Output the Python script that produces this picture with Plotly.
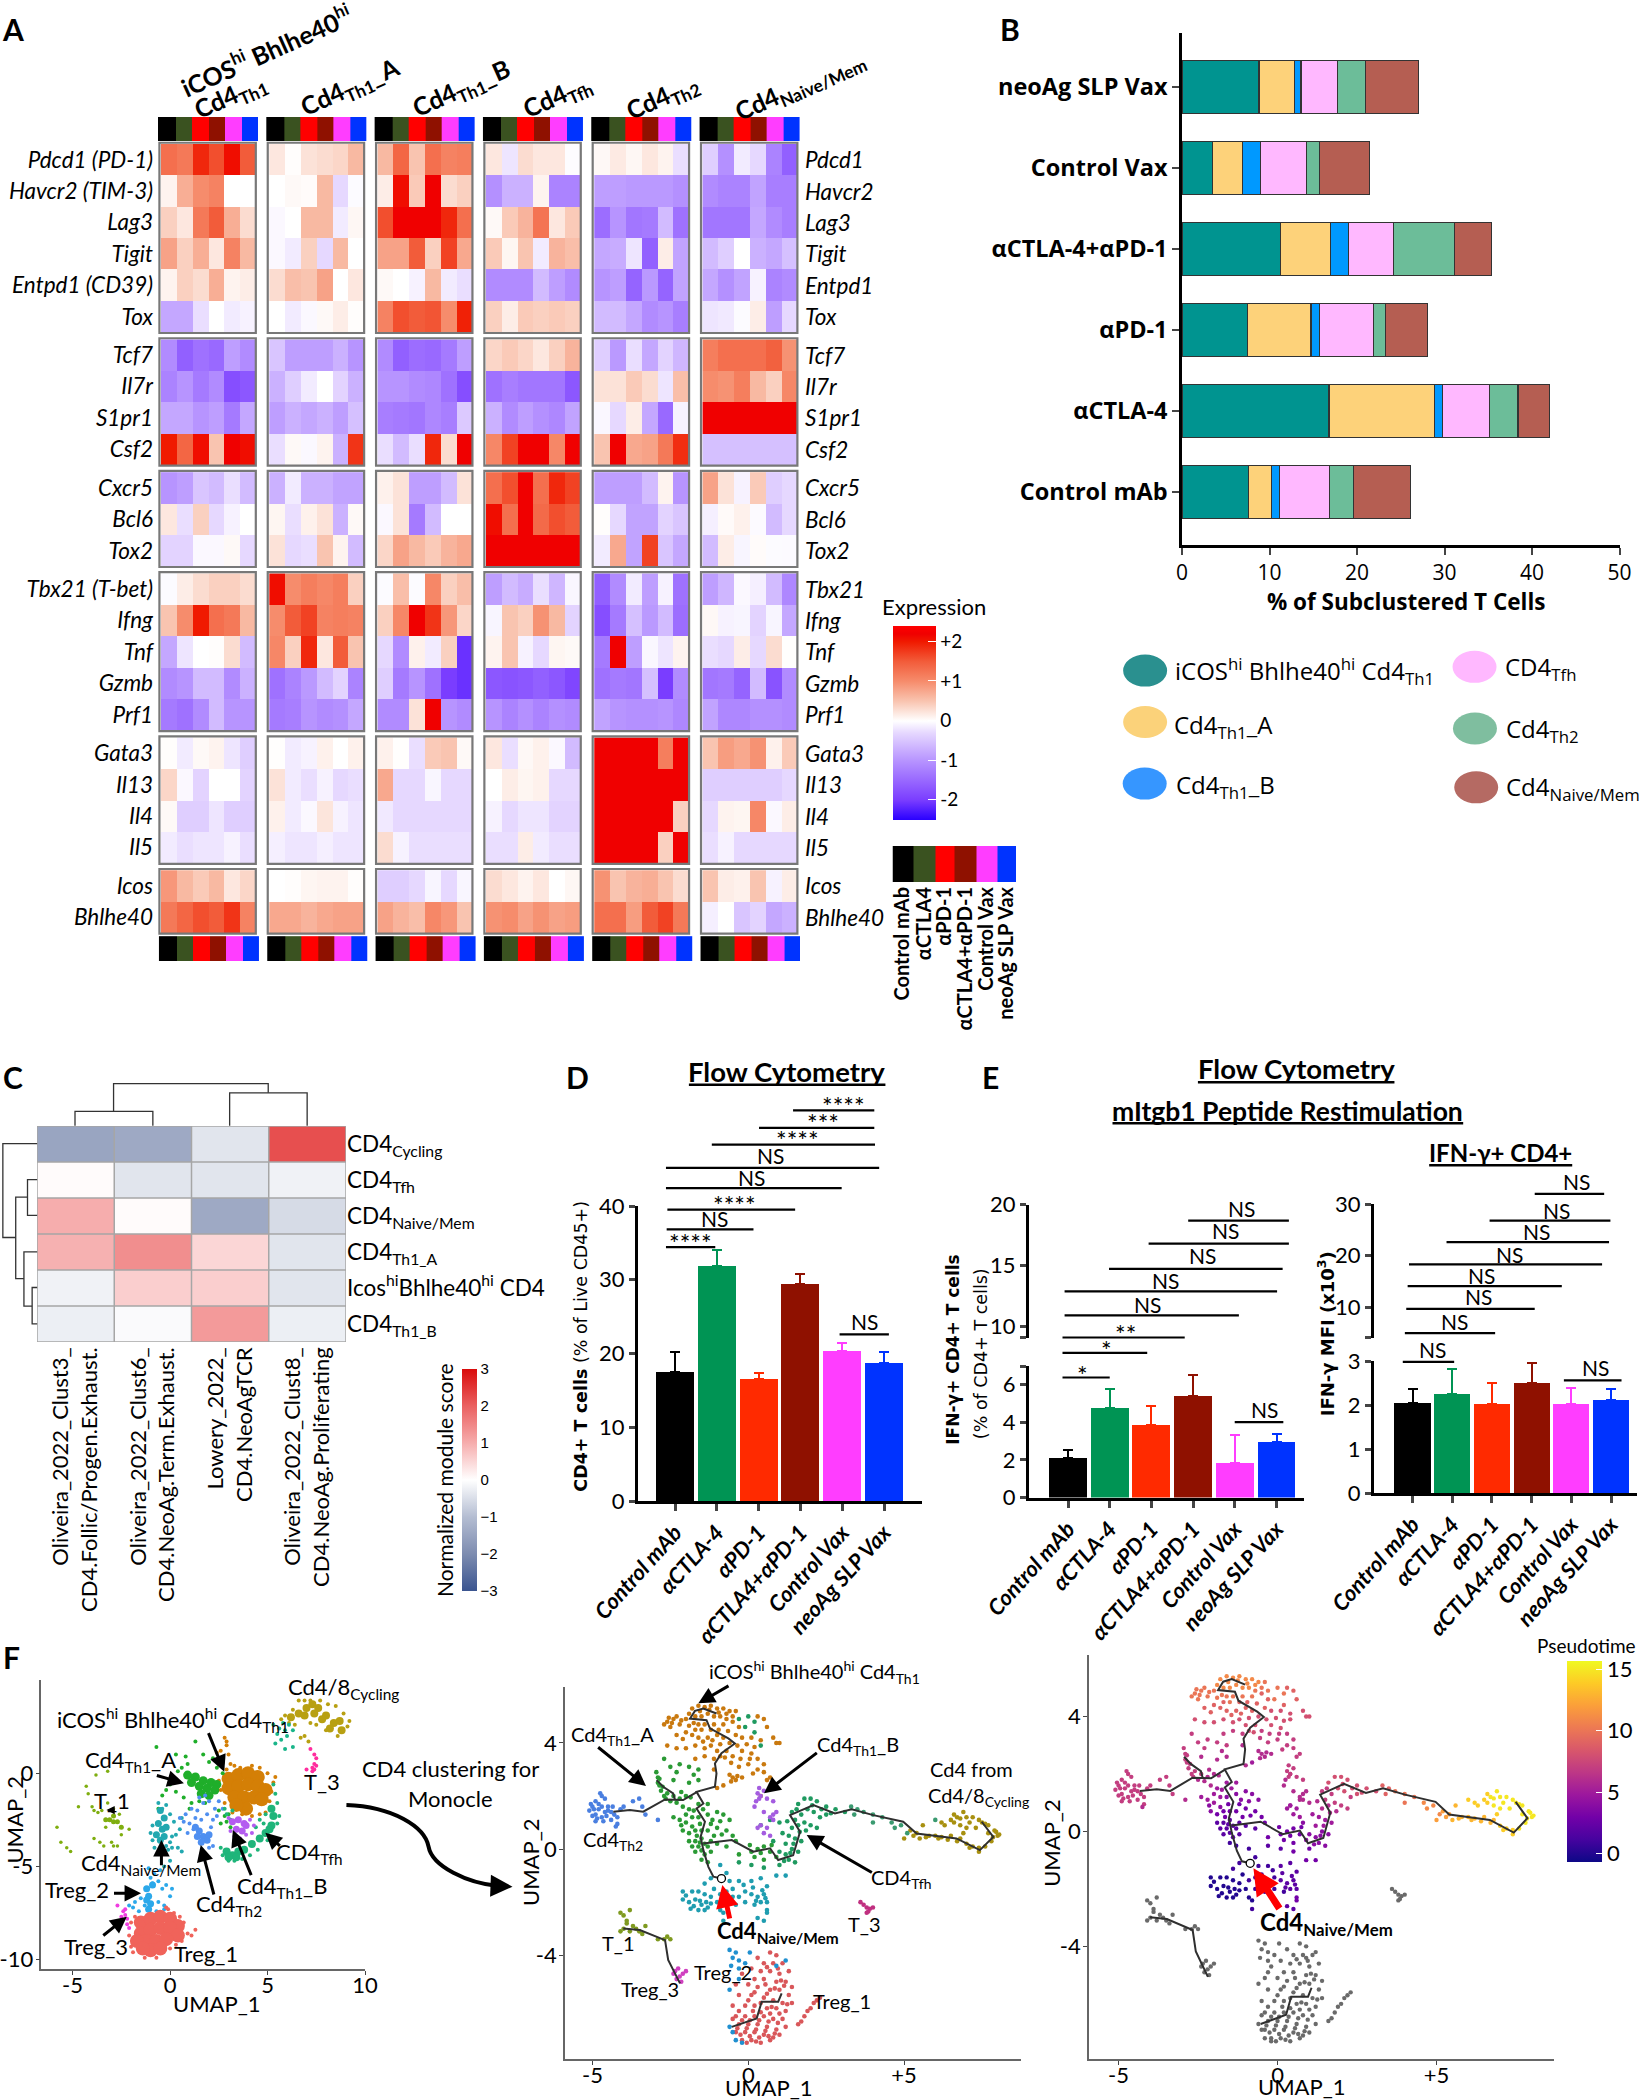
import plotly.graph_objects as go

W, H = 1639, 2100
LATO = "Lato"
OPEN = "Open Sans"
DEJA = "DejaVu Sans"

# ---------- panel A values ----------
genes_left = ["Pdcd1 (PD-1)", "Havcr2 (TIM-3)", "Lag3", "Tigit", "Entpd1 (CD39)", "Tox", "Tcf7", "Il7r", "S1pr1", "Csf2",
              "Cxcr5", "Bcl6", "Tox2", "Tbx21 (T-bet)", "Ifng", "Tnf", "Gzmb", "Prf1", "Gata3", "Il13", "Il4", "Il5", "Icos", "Bhlhe40"]
genes_right = ["Pdcd1", "Havcr2", "Lag3", "Tigit", "Entpd1", "Tox", "Tcf7", "Il7r", "S1pr1", "Csf2",
               "Cxcr5", "Bcl6", "Tox2", "Tbx21", "Ifng", "Tnf", "Gzmb", "Prf1", "Gata3", "Il13", "Il4", "Il5", "Icos", "Bhlhe40"]
group_sizes = [6, 4, 3, 5, 4, 2]
treat_colors = ["#000000", "#3a5220", "#ff0000", "#8f1100", "#ff3dff", "#0033ff"]
treat_names = ["Control mAb", "αCTLA4", "αPD-1", "αCTLA4+αPD-1", "Control Vax", "neoAg SLP Vax"]

block_icos = [[1.3,1.2,1.9,1.6,2.1,1.5],[.1,.7,1,1.1,0,0],[.4,.2,1.2,1.5,.7,.3],[.8,.4,.7,.2,1.1,.6],[.1,.4,.3,.7,.1,.15],[-.8,-.8,-.25,0,-.15,-.1],
 [-1.1,-1.6,-1.4,-1.5,-.9,-1.1],[-1.2,-1,-1.3,-1.1,-1.8,-1.7],[-.8,-.8,-1,-.9,-1.3,-.8],[2,1.4,2.1,.5,2.2,2.1],
 [-1,-.9,-.5,-.6,-.25,-.6],[.2,-.25,.4,-.3,-.1,0],[-.35,-.35,-.05,-.05,.05,-.3],
 [-.03,.15,.3,.4,.4,.3],[.5,1,2,1.3,1.2,.6],[-.8,-.2,0,.02,.3,-.6],[-1.1,-1,-.6,-.6,-1.1,-.7],[-1.3,-1.4,-1.1,-.6,-1,-1],
 [.02,-.15,.05,.1,-.2,-.4],[.35,-.05,-.35,0,0,-.35],[.05,-.4,-.4,-.2,-.4,-.4],[-.15,-.25,-.2,-.2,-.1,-.25],
 [.9,.6,.45,.6,.2,.35],[1.2,1.4,1.6,1.5,1.8,1.1]]
block_th1a = [[.2,.02,.25,.3,.35,.6],[0,.05,.03,.6,-.3,-.03],[-.05,0,.6,.6,-.15,.07],[-.05,-.15,.4,-.3,.6,0],[.3,.55,.5,.8,0,.2],[0,-.15,-.05,.05,.15,.02],
 [-.5,-.9,-.9,-.9,-.7,-1],[-.7,-.4,-.15,0,-.35,-.7],[-.9,-.7,-.8,-.7,-.9,-.55],[-.25,.05,-.05,.1,-.7,1.8],
 [-.7,-.15,-.7,-.7,-.85,-.85],[.08,-.25,.12,.25,-.7,.05],[.25,-.3,-.25,.5,.1,-.6],
 [2.1,1,1.15,1.05,1.15,.4],[1,1.5,1.7,1.1,1.15,1.1],[1.05,.4,1.9,.2,1.5,.5],[-1.4,-1.2,-.95,-.6,-.35,-1.2],[-1.3,-1.25,-1,-1.1,-1.05,-.8],
 [.01,-.15,-.1,.12,0,.12],[.25,-.15,-.25,-.1,-.3,-.25],[.12,-.15,-.05,.22,-.1,-.2],[-.12,-.2,-.2,-.12,-.2,-.2],
 [0,.02,.08,.1,.1,.02],[.75,.75,.65,.75,.8,.8]]
block_th1b = [[.6,1.4,.5,1.3,1.1,1.15],[.15,2.1,.45,2.2,.3,.4],[1.6,2.2,2.2,2.2,1.9,1.3],[.8,.8,1.5,.4,1.7,.75],[.05,0,-.1,.6,-.15,-.25],[1.1,1.6,1.5,1.55,1,1.95],
 [-1.1,-1.6,-1.45,-1.5,-1.3,-.9],[-1,-1,-1.1,-1.15,-1.4,-1.8],[-1.25,-1.3,-1.35,-1.15,-1.25,-.45],[-.25,-.6,-.25,1.9,.3,2.2],
 [.12,.25,-.9,-.9,-.6,.25],[-.05,.25,-1.3,-.6,0,0],[.35,.8,.6,.45,.65,.75],
 [-.03,.55,-.03,1.05,.4,.55],[.4,1.05,2.2,1.8,.9,.35],[-.3,-1.1,.12,-.15,.4,-2.1],[-.4,-1.3,-1,-1.4,-2,-2.1],[-1.1,-1.1,.25,2.2,-1,-1.1],
 [.12,.01,-.25,.45,.5,.05],[.75,-.3,-.3,-.07,-.3,-.3],[-.17,-.3,-.3,-.3,-.3,-.3],[.3,-.1,-.25,-.25,-.25,-.25],
 [-.4,-.4,-.3,-.08,-.3,-.07],[.8,.65,.55,1.05,.9,.5]]
block_tfh = [[.2,-.2,.3,.2,.2,-.02],[-1.05,-.7,-.7,.1,-1.2,-1.2],[.05,.45,.65,1.25,.2,.45],[.45,.08,.5,-.15,.65,.55],[-1.1,-1.1,-1.1,-.6,-.9,-1.1],[.4,.15,.45,.4,.45,.4],
 [.35,.45,.35,.2,.4,.65],[-1.4,-1.25,-1.35,-1.35,-1.35,-1.7],[-.7,-1.1,-.9,-1.05,-1.15,-.85],[1.05,1.7,2.2,2.2,1.05,2.2],
 [1.3,1.6,2.2,1.3,1.9,1.7],[2.1,1.3,2.2,1.35,1.6,1.5],[2.2,2.2,2.2,2.2,2.2,2.2],
 [-.9,-.6,-.75,-.25,-.65,-.07],[-.08,.5,.4,.95,.6,-.35],[.1,.5,-.1,-.3,.08,.05],[-1.7,-1.75,-1.7,-1.6,-1.7,-1.9],[-1,-1.2,-1.05,-1.2,-1.05,-1.1],
 [.2,-.25,.06,.12,-.05,-.6],[0,.15,.08,.12,-.3,-.3],[-.1,-.3,-.2,-.2,-.35,-.35],[-.25,-.25,.15,-.15,-.25,-.25],
 [.3,.2,.1,.2,0,.07],[.95,1,.8,.95,.8,.85]]
block_th2 = [[.06,.18,.07,.2,.1,-.25],[-.9,-.9,-.95,-.95,-.95,-1.05],[-1.45,-1,-1.35,-1.3,-.6,-1.4],[-.8,-.75,-.2,-1.6,.15,-.85],[-1,-.9,-1.55,-.95,-1.55,-.85],[-.6,-.6,-.8,-1.1,-1,-1.25],
 [-.4,-.95,-.25,-.8,-.35,-.65],[.25,.25,.45,.3,-.2,.55],[-.06,-.3,.15,-.8,-1.5,-.1],[.5,2.2,.75,.8,1.2,1.85],
 [-.9,-.9,-.9,-.6,.1,-1],[.02,-.3,-.85,-.85,-.35,-.5],[-.15,.75,-.85,1.7,-.5,-.8],
 [-1.6,-1.1,-.15,-.9,-.1,-1.4],[-1.8,-1.3,-.55,-.95,-.6,-1.45],[-1.3,2.2,-.9,-.06,-.2,.1],[-1.4,-1.3,-1.35,-.55,-2,-1.1],[-.85,-1,-1.05,-1.05,-1,-1.15],
 [2.2,2.2,2.2,2.2,1.15,2.2],[2.2,2.2,2.2,2.2,2.2,2.2],[2.2,2.2,2.2,2.2,2.2,.4],[2.2,2.2,2.2,2.2,.4,2.2],
 [.95,.5,.65,.7,.5,.3],[1.3,1.3,.85,1.5,1.7,1.2]]
block_naive = [[-.4,-1.05,-.15,-.3,-1.2,-1.6],[-1.1,-1.2,-1.2,-.85,-1.25,-1.25],[-1.35,-1.35,-1.35,-.8,-1.1,-1.25],[-.6,-.4,0,-.7,-.8,-.55],[-.8,-1.05,-.85,-.1,-1.2,-1.1],[-.2,-.17,-.03,.15,-.9,-.3],
 [1.15,1.3,1.3,1.3,1.45,.95],[1,.95,1.15,.6,.4,1.05],[2.2,2.2,2.2,2.2,2.2,2.2],[-.55,-.55,-.55,-.55,-.55,-.55],
 [.8,.25,-.1,.45,-.4,-.3],[-.12,.04,.12,-.04,-.6,-.3],[-.6,.15,-.08,.03,-.03,-.04],
 [-.9,-.65,-.05,-.12,-.6,-1.15],[.06,-.1,-.08,-.35,-.08,-.8],[-.25,-.3,.15,-.3,.3,.01],[-1.35,-1.3,-1.55,-.6,-1.75,-1.1],[-.85,-1.15,-1.15,-1.05,-1.05,-1.1],
 [.5,.85,.75,.95,.12,.45],[-.4,-.4,-.4,-.4,-.4,-.3],[-.3,.1,.08,1.05,-.05,.15],[-.25,-.1,-.3,-.3,-.3,-.3],
 [.5,.15,.12,.5,-.1,.15],[-.12,0,-.5,-.35,-.8,-.7]]

# ---------- panel B values ----------
cats_b = ["Control mAb", "αCTLA-4", "αPD-1", "αCTLA-4+αPD-1", "Control Vax", "neoAg SLP Vax"]
b_icos = [7.6, 16.8, 7.45, 11.3, 3.5, 8.8]
b_th1a = [2.65, 12.1, 7.3, 5.65, 3.45, 4.1]
b_th1b = [.85, .85, 1.0, 2.1, 2.05, .7]
b_tfh = [5.8, 5.35, 6.15, 5.15, 5.25, 4.15]
b_th2 = [2.7, 3.3, 1.4, 6.95, 1.45, 3.25]
b_naive = [6.55, 3.6, 4.8, 4.2, 5.75, 6.05]
b_colors = ["#009490", "#fdd27a", "#0099ff", "#ffb8ff", "#6cbd99", "#b55e52"]

# ---------- panel C values ----------
c_rows = ["CD4<sub>Cycling</sub>", "CD4<sub>Tfh</sub>", "CD4<sub>Naive/Mem</sub>", "CD4<sub>Th1_A</sub>", "Icos<sup>hi</sup>Bhlhe40<sup>hi</sup> CD4", "CD4<sub>Th1_B</sub>"]
c_cols = ["Oliveira_2022_Clust3_<br>CD4.Follic/Progen.Exhaust.", "Oliveira_2022_Clust6_<br>CD4.NeoAg.Term.Exhaust.",
          "Lowery_2022_<br>CD4.NeoAgTCR", "Oliveira_2022_Clust8_<br>CD4.NeoAg.Proliferating"]
c_z = [[-1.5, -1.4, -.4, 2.2], [.05, -.4, -.4, -.2], [1.0, .05, -1.4, -.55], [.95, 1.4, .5, -.4], [-.2, .6, .6, -.4], [-.25, -.07, 1.25, -.25]]

# ---------- panels D and E values ----------
cats_bar = ["Control mAb", "αCTLA-4", "αPD-1", "αCTLA4+αPD-1", "Control Vax", "neoAg SLP Vax"]
bar_colors = ["#000000", "#009454", "#ff2a00", "#8f1100", "#ff3dff", "#0033ff"]
d_vals = [17.5, 31.8, 16.6, 29.4, 20.3, 18.7]
d_tops = [20.2, 34, 17.3, 30.8, 21.4, 20.2]
e1_vals = [2.1, 4.75, 3.85, 5.4, 1.85, 2.95]
e1_tops = [2.55, 5.8, 4.85, 6.5, 3.35, 3.4]
e2_vals = [2.05, 2.25, 2.03, 2.5, 2.02, 2.13]
e2_tops = [2.37, 2.82, 2.5, 2.97, 2.4, 2.37]

# ---------- UMAP 1 cells, read by eye ----------
u1_orange_core = ([3,3.5,4,4.5,3,3.5,4,4.5,4.9,3.3,3.8,4.3,4.7,3.9,3.4], [-.3,-.1,0,-.2,-.8,-.7,-.6,-.7,-.9,-1.3,-1.3,-1.3,-1.4,-1.9,-1.7])
u1_orange = ([2.8,2.9,2.6,3,2.7,3.1,2.9,3.3,3.6,4.2,4.6,5,5.3,5.2,5.1,4.9,4.6,4.2,3.7,3.2,2.8,2.6,2.5,2.9,2.4,2.5,5.4],
             [1.9,1.5,1.2,1,.8,.5,.2,.4,.3,.4,.3,0,-.5,-1,-1.5,-2.1,-2.2,-2.3,-2.2,-2.1,-1.6,-.9,-.4,1.7,1.1,.5,-.2])
u1_green_core = ([.9,1.3,1.7,2.1,2.4,1.1,1.5,1.9,2.3,1.6,2], [-.1,-.2,-.4,-.5,-.6,-.5,-.7,-.8,-.9,-1.1,-1.2])
u1_green = ([-.7,.3,.8,1.3,1.7,2,.4,.6,0,-.2,.3,.7,1.1,1.5,2.4,2.7,2.2,.2,.9,-.4,-.6,1,1.8,2.5,3,2.9,2.6,2.8,3.1],
            [1.4,1,.9,1.7,1,.6,.1,.3,-.6,-.9,-1,-1.3,-1.6,-1.5,.3,0,.8,-.4,.5,-1.2,-1.9,-1.9,-1.6,-2,-2.2,-2.6,-2.7,-2.3,-2.9])
u1_teal_core = ([-.5,-.3,-.6,-.4,-.2,-.7,-.5,-.3], [-2,-2.4,-2.7,-3,-2.9,-3.3,-3.6,-3.4])
u1_teal = ([-.6,-.4,-.2,0,.2,-.9,-1,-.9,-.8,0,.3,.5,.1,-.1,.6,-.5,-.2,.1,.4,.6,-.3,0],
           [-1.6,-1.9,-1.7,-2.2,-2.6,-2.8,-3.2,-3.6,-4,-3.7,-3.3,-3,-4,-4.1,-2.4,-4.2,-3.9,-3.4,-4,-4.2,-5,-4.7])
u1_blue_core = ([1.5,1.7,1.9,2,1.6,1.4,1.3], [-3.1,-3.4,-3.6,-3.3,-3.7,-3.4,-2.9])
u1_blue = ([.8,1.1,1.4,1.7,2,2.3,2.5,2.7,1,1.3,1.6,1.9,2.2,.7,1.2,2.1,1.5,1.8,2.4,.5,.9,2.2,2],
           [-2.2,-1.9,-2,-1.6,-1.5,-1.9,-1.5,-1.9,-2.7,-2.4,-2.5,-2.2,-2.5,-2.6,-3,-2.9,-1.3,-1.2,-2.3,-2.4,-3.2,-3.9,-4])
u1_tfh_core = ([2.9,3.2,3.5,3.8,4.2,4.6,4.9,5.2,5.3,5.2,5.1,3,3.4], [-4.2,-4.4,-4.2,-4.1,-3.8,-3.5,-3.2,-2.8,-2.3,-1.9,-3,-4.5,-4.5])
u1_tfh = ([2.6,2.7,3,3.3,3.7,4.1,4.5,5,5.5,5.6,5.5,5.4,4.8,4.9,2.9,2.8,3.1,3.2,4.6,4.4,5.3],
          [-4,-4.4,-4.7,-4.7,-4.6,-4.4,-4.1,-3.6,-2.7,-2.3,-1.6,-1.1,-2.7,-2.2,-2.2,-1.9,-2.5,-2,-2.5,-2.9,-.6])
u1_purple_core = ([3.2,3.5,3.8,3.4,3.7,3.9], [-2.6,-2.5,-2.7,-3,-3.1,-2.8])
u1_purple = ([3,3.1,4.1,4.2,3.3,3.6,3.9,4.3], [-2.4,-3.1,-2.5,-3.2,-3.4,-3.5,-3.3,-2.8])
u1_treg2_core = ([-1.2,-1.1,-1,-1.1,-1.2,-.9], [-6.2,-6.6,-7,-7.3,-6.8,-6])
u1_treg2 = ([-1.8,-1.5,-1.3,-1,-.8,-.6,-.4,-.2,0,-.6,-.3,-.7,-.5,-1.9,-2.1,-1.6,-.8,-.9,-.3,.1,-1.1],
            [-6.9,-6.7,-7.1,-5.6,-5.4,-5.8,-6.2,-6,-6.6,-6.9,-7.1,-7.4,-5.2,-7.2,-7.1,-7.4,-7.6,-5.9,-7.3,-6.2,-5.1])
u1_treg1_core = ([-1.5,-1,-.5,0,.4,-1.5,-1,-.5,0,.4,-1.2,-.7,-.2,-1,-1.7,-1.4,-.5], [-8,-7.8,-7.7,-7.8,-8.2,-8.6,-8.4,-8.3,-8.3,-8.7,-9,-9,-8.9,-9.5,-9,-9.4,-9.4])
u1_treg1 = ([-2,-2.1,-2,.2,.5,.7,.9,1.1,1.3,.6,.3,0,-.3,-.7,-1.3,-1.8,-1.9,-.1,-.2],
            [-8,-8.7,-9.3,-7.5,-7.7,-8,-8.6,-8.7,-8.4,-9,-9.2,-9.4,-9.5,-9.9,-9.9,-7.7,-9.6,-7.3,-7.2])
u1_treg3 = ([-2.4,-2.3,-2.2,-2.5,-2.7,-2.2,-2.1,-2.3], [-7.4,-7.6,-7.8,-7.7,-7.1,-8.1,-8.3,-7.3])
u1_t1_core = ([-3.3,-3.1,-2.9,-2.7,-2.5,-2.9], [-2.5,-2.5,-2.6,-2.6,-2.9,-2.3])
u1_t1 = ([-5.8,-5.6,-5.3,-5.1,-4.7,-4.3,-4.2,-4,-3.9,-3.7,-3.5,-3.2,-3.3,-3,-2.7,-2.5,-3.6,-2.9,-2.6,-2.1,-3.4,-3.9,-3.8,-3.2,-2.9],
         [-2.9,-3.7,-4,-4.2,-1.8,-.7,-1.1,-1.8,-2,-2.1,-2,-1.6,-2.9,-3.7,-3.9,-3.3,-3.7,-3.9,-2.2,-3,-3.9,-3.5,-.1,.1,-1.9])
u1_cyc_core = ([6.2,6.6,7,7.3,7.6,8,8.4,8.8,8.7,7.4,6.9,7.8,8.2], [3,3.2,3.5,3.7,3.5,3.1,2.7,2.3,2.8,3.2,3.1,2.9,2.4])
u1_cyc = ([5.7,5.9,6.3,6.6,6.9,7.2,7.7,8.1,8.5,8.9,9.2,9.1,8.6,6.7,6.9,7.1,7.5,6.1,6.4,7.2,8],
          [2.9,3.1,3.4,3.9,3.9,3.9,3.9,3.7,3.6,3.2,2.8,2.5,2,1.9,2,1.7,2.6,2.7,2.6,2.7,2.3])
u1_tealgreen = ([5.3,5.5,5.6,5.8,5.9,6,6.1,5.7,6.3,5.4,5.9,6.3], [2.6,2.1,2.4,2.7,2.3,2,2.6,1.8,2.3,1.6,1.3,1.4])
u1_t3 = ([7.3,7.4,7.5,7.4,7.2,7.4,7.3,7,7.5], [.3,.5,.8,1,1.3,.2,.1,.2,.4])

# ---------- UMAP 2 and 3 cells (x, y, pseudotime), read by eye ----------
orange_cells = [(-2.7,4.7,10),(-2.6,4.8,10),(-2.4,4.9,10),(-2.5,4.6,10),(-2.2,4.7,10),(-2,4.9,10),(-1.9,5.1,11),(-1.8,5.3,11),(-1.6,5.4,11),(-1.4,5.35,11),(-1.2,5.4,11),(-1,5.3,11),(-.8,5.3,11),(-.6,5.2,11),(-.4,5.2,10),(-1.7,5,11),(-1.5,5,11),(-1.3,5.1,11),(-1.1,5,11),(-.9,5,11),(-.7,4.9,10),(-1.6,4.7,10),(-1.4,4.7,10),(-1.1,4.7,10),(-.8,4.7,10),(-.5,4.8,9),(-.3,4.6,9),(.3,5,9),(.5,4.9,9),(.6,4.6,9),(.8,4.2,8),(.9,4,8),(1,4,8),(-2.3,4.3,9),(-2,4.4,9),(-1.8,4.3,9),(-1.6,4.2,9),(-1.3,4.2,9),(-1,4.3,9),(-.8,4.2,9),(-.2,4.2,8),(.1,4.2,8),(.4,4.1,8),(-2.6,3.9,8),(-2.3,3.8,8),(-2,3.8,8),(-1.7,3.9,8),(-1.4,3.8,8),(-1.2,3.9,8),(-1,3.7,8),(-.7,3.7,8),(-.9,3.5,8),(-1.1,3.4,7),(-1.4,3.5,7),(-1.7,3.4,7),(-.5,3.5,7),(-.2,3.7,8),(.1,3.6,8),(.3,3.4,7),(-.3,3.1,7),(0,3.2,7),(.3,3,7),(.5,2.9,7),(.7,2.7,7),(-.5,2.7,6),(-.4,2.6,6),(-.2,2.7,6),(-.6,2.8,6),(-1.1,3,6),(-.8,2.4,5),(-1,2.3,6),(.4,2,7),
 (-2.45,4.75,10),(-2.15,4.85,10),(-1.75,4.75,10),(-1.5,4.5,10),(-1.2,4.5,9),(-.95,4.5,9),(-.65,4.45,9),(-.4,4.3,9),(-1.7,4.5,9),(-2.1,4.15,9),(-1.45,4.05,9),(-1.15,4.1,9),(-.9,3.95,8),(-.6,4,8),(-.35,3.9,8),(-.05,3.95,8),(.2,3.85,8),(-.75,3.45,8),(-.55,3.25,7),(-.25,3.4,7),(.05,3.4,7),(.5,3.2,7),(-1.55,5.2,11),(-1.25,5.25,11),(-.95,5.15,11),(-.7,5.1,11),(-.5,5,10),(-2.55,4.95,10),(-2.3,5,10),(-1.9,4.65,10),(-.55,2.55,6),(-.35,2.75,6),(.15,2.85,7),(.6,2.6,7)]
green_cells = [(-2.9,2.7,7),(-2.9,2.5,7),(-2.85,2.4,7),(-2.8,2.2,7),(-2.95,2.9,7),(-2.7,2,7),(-2.6,2.1,7),(-2.4,2,7),(-2.2,1.9,6),(-2,2,6),(-2.5,1.8,6),(-2.7,3.4,7),(-2.5,3.1,7),(-2.2,3.2,7),(-1.9,3.1,7),(-1.6,3,7),(-2.4,2.6,6),(-1.9,2.5,6),(-1.6,2.6,6),(-2.1,1.6,6),(-1.9,1.5,5),(-1.6,1.7,5),(-1.3,1.7,5),(-2.4,1.2,5),(-2.2,1.1,5),(-2,1,5),(-1.8,1.2,5),(-1.6,1.2,4),(-1.3,1.3,4),(-1,1.4,4),(-.8,1.3,4),(-.6,1.1,4),(-2.1,.7,4),(-1.9,.6,3),(-1.7,.7,3),(-1.5,.7,3),(-1.3,.7,3),(-1,.8,3),(-.7,.7,3),(-.5,.5,3),(-1.9,.3,2),(-1.7,.3,2),(-1.6,.1,2),(-1.4,.2,2),(-1.5,.4,2),(-1.2,.3,2),(-1,.2,2),(-.7,.1,2),(-1.7,-.1,2),(-1.4,-.2,2),(-1.2,-.1,2),(-1.5,-.4,1),(-1.3,-.5,1),(.1,-.1,3),(.3,0,3),(.5,.1,3),(.7,-.1,3),(.2,-.3,3),(.5,-.4,3),(.9,-.3,4),(-.3,-.2,3),
 (-2.85,2.65,7),(-2.75,2.35,7),(-2.65,1.9,7),(-2.3,1.75,6),(-2.15,2.15,6),(-1.85,1.95,6),(-2,1.3,5),(-1.75,1.45,5),(-1.45,1.5,5),(-1.15,1.1,4),(-.9,1.05,4),(-2.15,.9,4),(-1.8,.85,4),(-1.55,.95,3),(-1.2,.95,3),(-.85,.55,3),(-1.65,.5,3),(-1.8,.1,2),(-1.5,-.05,2),(-1.55,.25,2),(-1.3,.1,2),(-1.1,.5,3),(-.4,.3,3),(.05,.15,3),(.4,-.15,3),(.75,.15,3),(-2.3,2.9,7),(-1.75,2.8,6)]
tfh_cells = [(1.4,1.4,7),(1.6,1.7,8),(1.8,1.9,8),(2,1.9,8),(2.2,1.8,8),(2.5,1.6,8),(2.8,1.5,8),(3.1,1.4,8),(1.5,1.1,7),(1.7,1.3,7),(1.9,1.5,8),(2.1,1.4,8),(2.3,1.2,7),(2.5,1.3,8),(1.4,.8,6),(1.6,.9,6),(1.8,1,7),(2,.9,7),(2.2,.8,7),(1.3,.5,5),(1.5,.4,5),(1.7,.3,5),(1.2,.2,5),(1.4,0,4),(1.6,-.1,4),(1.2,-.2,4),(1,-.1,4),(.8,.3,4),(1.1,.6,5),(.4,.9,5),(.7,1.1,6),(1,1,6),(1.3,-.4,4),(1.5,-.5,4),(1,-.6,3),(.5,-.7,3),(.1,-.6,2),(-.3,-.5,2),(.4,3.9,8),(-.3,4.9,10),(0,5,10),(.2,4.8,10),(-.1,4.6,10),(.2,4.4,9),
 (1.55,1.5,7),(2.05,1.65,8),(2.35,1.5,8),(1.65,.65,6),(1.85,.7,6),(1.45,.2,5),(1.35,-.15,4),(1.15,-.45,4),(2.65,1.35,8),(1.25,1.05,6)]
purple_cells = [(.3,2.1,7),(.4,2,7),(.35,1.9,7),(.5,2.2,7),(.25,1.8,6),(.6,1.9,7),(.8,1.8,7),(.2,1.6,6),(.5,1.4,6),(.8,1.3,6),(.9,1.4,6),(.7,1.2,6),(.4,.9,5),(.3,.8,5),(.6,.8,5),(.5,.6,5),(.7,.5,5),(.35,2.3,7),(.8,1.1,6)]
naive_cells = [(-2.1,-1.9,0),(-1.9,-2,0),(-1.7,-1.9,0),(-1.5,-2.1,0),(-1.6,-2.3,0),(-1.4,-2.3,0),(-1.3,-2.2,0),(-1.8,-1.6,0),(-1.6,-1.6,0),(-1.4,-1.7,0),(-1.2,-1.8,0),(-1.1,-1.5,0),(-.9,-1.7,1),(-.7,-1.6,1),(-.5,-1.5,1),(-.3,-1.8,1),(-.1,-1.6,1),(.1,-1.7,2),(.3,-1.8,2),(.5,-1.7,2),(.6,-2,2),(.4,-2,2),(.2,-2.1,1),(-.1,-2,1),(-.4,-2.1,1),(-.7,-2,1),(-1,-2,0),(-1.4,-1.3,1),(-1.2,-1.1,1),(-.6,-1.2,1),(-.3,-1.2,1),(.1,-1.2,2),(.4,-1.1,2),(-.7,-.9,1),(-.9,-.6,1),(.6,-1.4,2),(.9,-1,3),(1.2,-1,3),(.6,-2.3,3),(-.8,-2.4,0),(-.9,-2.3,0),(-2.1,-1.6,0),(.6,-2.4,3),(.5,-2.7,2),(.3,-2.6,2),(-.8,-2.7,1),
 (-2,-1.75,0),(-1.75,-2.15,0),(-1.55,-1.95,0),(-1.35,-2,0),(-1.2,-2.05,0),(-1.85,-2.25,0),(.25,-1.95,2),(.45,-1.55,2),(.15,-1.45,2),(-.15,-1.35,1),(.55,-1.85,2),(-.5,-1.8,1)]
th2_cells = [(-5.1,1.45,7),(-5,1.6,7),(-4.9,1.3,7),(-4.8,1.5,7),(-4.8,1.7,7),(-4.7,1.2,7),(-4.6,1.4,7),(-4.5,1.6,7),(-4.6,1.9,7),(-4.4,1.1,7),(-4.4,1.4,7),(-4.2,1.2,7),(-4.1,1.5,7),(-4,1.6,7),(-3.7,1.8,7),(-3.5,1.9,7),(-3.4,1.6,7),(-3.3,1.3,7),(-4.2,.95,7),(-4.25,.85,6),(-2.9,1.1,6),(-4.9,1.05,7),(-4.7,2,7),(-4.75,2.1,7),
 (-5,1.25,7),(-4.95,1.5,7),(-4.85,1.15,7),(-4.7,1.6,7),(-4.65,1.05,7),(-4.55,1.25,7),(-4.5,1.45,7),(-4.35,1.6,7),(-4.3,1.3,7),(-5.05,1.7,7),(-4.9,1.8,7)]
gold_cells = [(5,.4,12),(5.2,.7,12),(5.4,.6,12),(5.5,.4,13),(5.6,.9,13),(5.8,.5,13),(6,.5,13),(6.2,.45,13),(6.5,.5,13),(6.8,.4,13),(7,.2,14),(7.2,.1,14),(7.4,.05,14),(7.4,-.1,14),(6.5,1.1,14),(6.6,1.3,14),(6.7,1.2,15),(6.9,1.4,15),(7,1.2,15),(7.2,1.2,15),(7.4,1.1,15),(7.5,1,15),(7.7,.9,15),(7.9,.7,15),(8,.5,15),(8.05,.55,15),(7.8,.3,15),(7.6,.1,15),(7.3,.8,15),(6.8,.9,15),(7,.8,15),(6.9,.6,14),(6.3,.9,14),(6.2,1,14),
 (5.3,.5,12),(5.7,.45,13),(6.1,.4,13),(6.4,.35,13),(6.7,.3,13),(7.1,.05,14),(7.7,.6,15),(7.85,.45,15),(7.95,.65,15),(7.6,.95,15),(6.8,1.15,15),(7.1,1,15),(6.6,1,14)]
arc_cells = [(3.3,1.6,9),(3.5,1.5,9),(3.7,1.4,10),(4,1.3,10),(4.3,1.2,10),(4.6,1,11),(4.9,.9,11),(5.1,.6,11),(3.4,1.3,9),(4.7,.8,11),(4,1,10),(6,1.1,14)]
t1_cells = [(-4,-3),(-3.9,-2.8),(-3.8,-3.1),(-3.7,-2.9),(-3.6,-3),(-3.5,-3.1),(-3.4,-3.2),(-3.3,-2.9),(-4.1,-3.1),(-2.7,-3.4),(-2.6,-3.3),(-2.5,-3.4),(-2.9,-3.4),(-4.1,-2.4),(-4,-2.5),(-3.9,-2.7),(-3.8,-2.3)]
treg3_cells = [(-2.4,-4.7),(-2.35,-4.6),(-2.3,-4.9),(-2.2,-4.8),(-2.25,-4.5),(-2.15,-5),(-2.1,-4.7),(-2,-4.6)]
t3_cells = [(3.6,-2),(3.7,-2.1),(3.8,-2.2),(3.85,-2.35),(3.9,-2.25),(4,-2.2),(3.8,-2.4)]
treg1_cells = [(.7,-3.9),(.9,-4),(.3,-4.1),(.5,-4.3),(.8,-4.3),(1.1,-4.3),(1.3,-4.6),(.1,-4.5),(.4,-4.6),(.7,-4.6),(1,-4.7),(-.2,-4.7),(.2,-4.9),(.5,-4.9),(.9,-5),(1.2,-5),(1.4,-5.2),(-.4,-5.1),(0,-5.1),(.3,-5.2),(.7,-5.3),(1,-5.3),(1.3,-5.5),(-.3,-5.5),(.1,-5.5),(.5,-5.6),(.8,-5.7),(1.1,-5.8),(1.4,-5.8),(-.1,-5.9),(.2,-5.9),(.6,-6),(.9,-6),(1.2,-6.1),(-.3,-6.1),(-.1,-6.3),(.2,-6.3),(.5,-6.3),(.8,-6.4),(1.1,-6.4),(-.5,-6.4),(-.3,-6.6),(0,-6.6),(.3,-6.6),(.6,-6.7),(.9,-6.8),(1.2,-6.7),(-.4,-6.9),(-.1,-6.9),(.2,-6.9),(.5,-7),(.8,-7.1),(1,-7),(-.2,-7.2),(.1,-7.2),(.4,-7.3),(.7,-7.2),(1.8,-6.3),(1.9,-6.1),(2,-6),(2.1,-5.8),(2.2,-5.7),(2.3,-5.6),(1.7,-6.5),(1.6,-6.6),(-.5,-5.9),(-.4,-6.3),
 (0,-5.7),(.4,-5.8),(.75,-5.95),(1,-6.2),(.15,-6.1),(.4,-6.15),(.7,-6.2),(-.2,-6.45),(.05,-6.45),(.35,-6.45),(.65,-6.5),(.95,-6.55),(-.35,-6.75),(-.05,-6.75),(.25,-6.8),(.55,-6.85),(.85,-6.95),(-.25,-7),(.05,-7.05),(.35,-7.1),(.65,-7.05),(-.05,-7.3),(.25,-7.25),(.55,-5.1),(.85,-5.25),(1.15,-5.15),(.2,-5.4),(.6,-5.45),(1.25,-5.85),(1.05,-4.95),(.6,-4.45),(.95,-4.5)]
treg2_cells = [(-.6,-3.8),(-.5,-4.1),(-.4,-3.9),(-.3,-4.2),(-.1,-4.3),(-.55,-4.4),(-.3,-4.5),(.9,-4.4),(1.2,-4.2),(-.6,-6.7),(-.5,-6.9),(-.4,-7.2),(-.2,-7.3),(-.6,-5.3),(-.3,-4.9),(.05,-3.9)]

# trajectories
traj_top_x = [-.86,-1.12,-1.28,-1.44,-1.53,-1.39,-1.66,-1.44,-1.66,-1.07,-1.02,-1.07,-.86,-.43,-.64,-1.23,-1.34,-1.87,-1.71,-1.44,-1.02]
traj_top_y = [-1.11,-1.04,-.67,-.04,.46,1.03,1.53,1.72,2.16,2.35,2.85,3.23,3.61,3.98,4.17,4.55,4.86,4.92,5.21,5.3,5.11]
traj_th2_x = [-1.64,-2.09,-2.67,-3.37,-3.8,-4.33]
traj_th2_y = [2.16,1.85,1.87,1.41,1.47,1.41]
traj_loop_x = [-2.35,-2.41,-2.73,-2.94]
traj_loop_y = [1.85,2.1,2.35,2.6]
traj_right_x = [-1.44,-.53,.16,.7,.96,1.44,1.66,1.34,2.09,2.78,3.32,4.01,4.97,5.4,6.68,7.43,7.86,7.49]
traj_right_y = [.21,.34,-.1,.03,-.41,-.23,.65,1.28,1.66,1.34,1.5,1.28,1.03,.59,.4,-.04,.46,1.03]
traj_t_x = [-4.01,-3.48,-2.67,-2.57,-2.19]
traj_t_y = [-2.99,-3.05,-3.43,-4.18,-5.06]
traj_treg_x = [-.53,.27,.43,.96,1.07]
traj_treg_y = [-6.7,-6.38,-5.75,-5.75,-5.44]

# ---------- helpers ----------
def px(x):
    return x / W

def py(y):
    return 1 - y / H

def dom_x(a, b):
    return [a / W, b / W]

def dom_y(top, bottom):
    return [1 - bottom / H, 1 - top / H]

# the reference crops I read positions from
def zb(x, y): return (980 + x / 2.38, y / 1.867)
def zc(x, y): return (x / 2.8, 1050 + y / 2.8)
def zd(x, y): return (550 + x / 1.44, 1050 + y / 2.8)
def zf1(x, y): return (x / 2.8, 1640 + y / 3)
def zf2(x, y): return (540 + x / 3, 1640 + y / 3)
def zf3(x, y): return (1040 + x / 2.6, 1640 + y / 3)

annotations = []
shapes = []

def label(text, pos, size=21, bold=False, angle=0, anchor="center", family=LATO, color="black", italic=False):
    annotations.append(dict(text=text, x=px(pos[0]), y=py(pos[1]), xref="paper", yref="paper", showarrow=False,
                            xanchor=anchor, yanchor="middle", textangle=angle,
                            font=dict(family=family, size=size, color=color, weight="bold" if bold else "normal",
                                      style="italic" if italic else "normal")))

def arrow(tail, head, width=3, color="black", size=1.1):
    annotations.append(dict(text="", x=px(head[0]), y=py(head[1]), xref="paper", yref="paper", axref="pixel", ayref="pixel",
                            ax=tail[0] - head[0], ay=tail[1] - head[1], showarrow=True, arrowhead=2,
                            arrowwidth=width, arrowsize=size, arrowcolor=color, standoff=0))

def line(p0, p1, width=2.5, color="black"):
    shapes.append(dict(type="line", xref="paper", yref="paper", x0=px(p0[0]), y0=py(p0[1]), x1=px(p1[0]), y1=py(p1[1]),
                       line=dict(color=color, width=width)))

def poly(points, width=1.3, color="#333333"):
    d = "M" + " L".join(f"{px(x):.5f},{py(y):.5f}" for x, y in points)
    shapes.append(dict(type="path", xref="paper", yref="paper", path=d, line=dict(color=color, width=width)))

fig = go.Figure()

# ---------- panel A ----------
cell_step = 6.855
row_gap = 0.226
blocks = [block_icos, block_th1a, block_th1b, block_tfh, block_th2, block_naive]
strip_edges = [-.19, .93, 1.97, 3.02, 4.05, 5.12, 6.11]
strip_scale = [[i / 5, c] for i, c in enumerate(treat_colors)]
row_centres = []
group_tops = []
row = 0
for g, size in enumerate(group_sizes):
    group_tops.append(row + g * row_gap)
    for j in range(size):
        row_centres.append(row + g * row_gap + j + .5)
    row += size

for b, block in enumerate(blocks):
    start = b * cell_step
    row = 0
    for g, size in enumerate(group_sizes):
        top = group_tops[g]
        fig.add_trace(go.Heatmap(z=block[row:row + size], x=[start + i for i in range(7)], y=[top + j for j in range(size + 1)],
                                 coloraxis="coloraxis", xaxis="x", yaxis="y", hoverinfo="skip"))
        shapes.append(dict(type="rect", xref="x", yref="y", x0=start - .1, x1=start + 6, y0=top - .04, y1=top + size + .02,
                           line=dict(color="#787878", width=2.2)))
        row += size
    for y0, y1, shift in [(-.86, -.095, 0), (25.23, 26.02, .06)]:
        fig.add_trace(go.Heatmap(z=[[0, 1, 2, 3, 4, 5]], x=[start + e + shift for e in strip_edges], y=[y0, y1],
                                 colorscale=strip_scale, zmin=0, zmax=5, showscale=False, xaxis="x", yaxis="y", hoverinfo="skip"))

for name, yc in zip(genes_right, row_centres):
    annotations.append(dict(text=name, x=px(803), y=yc, xref="paper", yref="y", showarrow=False, xanchor="left", yanchor="middle",
                            font=dict(family=LATO, size=22.5, style="italic", color="black")))

col_titles = [("iCOS<sup>hi</sup> Bhlhe40<sup>hi</sup>", (266, 50)), ("Cd4<sub>Th1</sub>", (230, 97)), ("Cd4<sub>Th1</sub>_A", (350, 88)),
              ("Cd4<sub>Th1</sub>_B", (462, 89)), ("Cd4<sub>Tfh</sub>", (557, 97)), ("Cd4<sub>Th2</sub>", (662, 98)), ("Cd4<sub>Naive/Mem</sub>", (800, 86))]
for text, pos in col_titles:
    label(text, pos, size=25, bold=True, angle=-24)

# treatment key
key_edges = [892.5, 913, 935.5, 954, 976.5, 997, 1016]
key_centres = [(key_edges[i] + key_edges[i + 1]) / 2 for i in range(6)]
fig.add_trace(go.Heatmap(z=[[0, 1, 2, 3, 4, 5]], x=key_edges, y=[0, 1], colorscale=strip_scale, zmin=0, zmax=5, showscale=False,
                         xaxis="x2", yaxis="y2", hoverinfo="skip"))
label("Expression", (933.6, 607), size=22)

# ---------- panel B ----------
for vals, color in zip([b_icos, b_th1a, b_th1b, b_tfh, b_th2, b_naive], b_colors):
    fig.add_trace(go.Bar(x=vals, y=cats_b, orientation="h", width=.654, xaxis="x3", yaxis="y3",
                         marker=dict(color=color, line=dict(color="#333333", width=1.2)), hoverinfo="skip"))
label("% of Subclustered T Cells", (1406, 602), size=22.5, bold=True, family=OPEN)
key_b = [((393, 1252), "iCOS<sup>hi</sup> Bhlhe40<sup>hi</sup> Cd4<sub>Th1</sub>", (460, 1252), "#2a908f"),
         ((393, 1348), "Cd4<sub>Th1</sub>_A", (457, 1355), "#fbd27a"),
         ((392, 1463), "Cd4<sub>Th1</sub>_B", (462, 1468), "#3696ff"),
         ((1177, 1245), "CD4<sub>Tfh</sub>", (1245, 1248), "#ffb8ff"),
         ((1178, 1360), "Cd4<sub>Th2</sub>", (1247, 1362), "#7fbe9f"),
         ((1181, 1470), "Cd4<sub>Naive/Mem</sub>", (1247, 1472), "#b56a63")]
for centre, text, pos, color in key_b:
    cx, cy = zb(*centre)
    shapes.append(dict(type="circle", xref="paper", yref="paper", x0=px(cx - 22), x1=px(cx + 22), y0=py(cy - 16), y1=py(cy + 16),
                       fillcolor=color, line=dict(width=0)))
    label(text, zb(*pos), size=24, anchor="left", family=OPEN)

# ---------- panel C ----------
fig.add_trace(go.Heatmap(z=c_z, x=[0, 1, 2, 3], y=[0, 1, 2, 3, 4, 5], coloraxis="coloraxis2", xaxis="x4", yaxis="y4", hoverinfo="skip"))
for i in range(5):
    shapes.append(dict(type="line", xref="x4", yref="y4", x0=i - .5, x1=i - .5, y0=-.5, y1=5.5, line=dict(color="#a6a6a6", width=1.5)))
for i in range(7):
    shapes.append(dict(type="line", xref="x4", yref="y4", x0=-.5, x1=3.5, y0=i - .5, y1=i - .5, line=dict(color="#a6a6a6", width=1.5)))
dendro = [[(318, 172), (318, 94), (751, 94), (751, 120)], [(210, 212), (210, 172), (428, 172), (428, 212)],
          [(643, 212), (643, 120), (860, 120), (860, 212)], [(104, 262), (8, 262), (8, 525), (44, 525)],
          [(77, 412), (44, 412), (44, 640), (67, 640)], [(104, 363), (77, 363), (77, 463), (104, 463)],
          [(104, 565), (67, 565), (67, 717), (90, 717)], [(104, 665), (90, 665), (90, 767), (104, 767)]]
for seg in dendro:
    poly([zc(*p) for p in seg])
label("Normalized module score", zc(1245, 1205), size=21, angle=-90)

# ---------- panels D, E ----------
def add_bars(vals, tops, xa, ya):
    for name, v, t, color in zip(cats_bar, vals, tops, bar_colors):
        fig.add_trace(go.Bar(x=[name], y=[v], width=.91, xaxis=xa, yaxis=ya, marker=dict(color=color, line=dict(width=0)), hoverinfo="skip",
                             error_y=dict(type="data", symmetric=False, array=[round(t - v, 3)], arrayminus=[0], color=color, thickness=2, width=5)))

add_bars(d_vals, d_tops, "x5", "y5")
add_bars(e1_vals, e1_tops, "x6", "y6")
add_bars(e1_vals, e1_tops, "x7", "y7")
add_bars(e2_vals, e2_tops, "x8", "y8")
add_bars(e2_vals, e2_tops, "x9", "y9")

# significance brackets: x0, x1, y, text, text x, text y
sig_d = [(350, 467, 169, "****", 422, 158), (301, 467, 218, "***", 393, 203), (233, 468, 265, "****", 357, 253), (167, 474, 330, "NS", 317, 296),
         (167, 420, 387, "NS", 290, 357), (169, 353, 447, "****", 266, 433), (168, 293, 502, "NS", 237, 472), (167, 238, 552, "****", 203, 540),
         (417, 488, 796, "NS", 453, 759)]
sig_e1 = [(919, 1064, 478, "NS", 996, 443), (862, 1064, 542, "NS", 972, 506), (805, 1055, 613, "NS", 939, 575), (741, 1047, 676, "NS", 887, 645),
          (741, 992, 743, "NS", 861, 713), (738, 914, 805, "**", 828, 795), (738, 860, 848, "*", 801, 839), (738, 806, 917, "*", 767, 909),
          (986, 1056, 1042, "NS", 1029, 1006)]
sig_e2 = [(1418, 1518, 403, "NS", 1478, 369), (1353, 1527, 478, "NS", 1450, 450), (1291, 1525, 538, "NS", 1420, 509), (1237, 1515, 600, "NS", 1381, 573),
          (1235, 1457, 661, "NS", 1341, 632), (1233, 1418, 725, "NS", 1337, 690), (1231, 1361, 793, "NS", 1302, 761), (1228, 1302, 873, "NS", 1271, 839),
          (1460, 1543, 925, "NS", 1505, 890)]
for x0, x1, y, text, tx, ty in sig_d + sig_e1 + sig_e2:
    line(zd(x0, y), zd(x1, y), width=2.2)
    label(text, zd(tx, ty), size=25 if "*" in text else 21)

heads = [("Flow Cytometry", (341, 60), (200, 483, 97), 27.5), ("Flow Cytometry", (1075, 52), (933, 1216, 90), 27.5),
         ("mItgb1 Peptide Restimulation", (1062, 172), (810, 1315, 205), 26.5), ("IFN-γ+ CD4+", (1369, 288), (1266, 1472, 323), 24)]
for text, pos, ul, size in heads:
    label(text, zd(*pos), size=size, bold=True)
    line(zd(ul[0], ul[2]), zd(ul[1], ul[2]), width=2.5)

label("<b>CD4+ T cells</b> (% of Live CD45+)", zd(45, 830), size=17.5, angle=-90, family=DEJA)
label("<b>IFN-γ+ CD4+ T cells</b>", zd(580, 840), size=17, angle=-90, family=DEJA)
label("(% of CD4+ T cells)", zd(620, 850), size=17.5, angle=-90, family=DEJA)
label("<b>IFN-γ MFI (x10<sup>3</sup>)</b>", zd(1118, 795), size=18, angle=-90, family=DEJA)

# ---------- panel F ----------
def add_cells(cells, color, xa, ya, size=4):
    fig.add_trace(go.Scatter(x=cells[0], y=cells[1], mode="markers", xaxis=xa, yaxis=ya, hoverinfo="skip",
                             marker=dict(size=size, color=color, line=dict(width=0))))

u1_layers = [(u1_orange_core, "#d47f06", 14), (u1_orange, "#d47f06", 4), (u1_green_core, "#1fae2a", 9), (u1_green, "#1fae2a", 4),
             (u1_teal_core, "#22a8b0", 7), (u1_teal, "#22a8b0", 4), (u1_blue_core, "#4f8ff0", 7), (u1_blue, "#4f8ff0", 4),
             (u1_tfh_core, "#1fb57a", 8), (u1_tfh, "#1fb57a", 4), (u1_purple_core, "#b45cf0", 7), (u1_purple, "#b45cf0", 4),
             (u1_treg2_core, "#2ba8ea", 7), (u1_treg2, "#2ba8ea", 4), (u1_treg1_core, "#f0635a", 14), (u1_treg1, "#f0635a", 4),
             (u1_treg3, "#f03de0", 4), (u1_t1_core, "#7fae10", 5), (u1_t1, "#7fae10", 3.5), (u1_cyc_core, "#b8a012", 8), (u1_cyc, "#b8a012", 4),
             (u1_tealgreen, "#1ab58a", 4), (u1_t3, "#ff2d9e", 4)]
for cells, color, size in u1_layers:
    add_cells(cells, color, "x10", "y10", size)

u2_clusters = [(orange_cells, "#c9790f"), (green_cells, "#2a9a35"), (tfh_cells, "#1f9a60"), (purple_cells, "#a45ce0"), (naive_cells, "#1f9db0"),
               (th2_cells, "#4a7fe0"), (gold_cells, "#a89010"), (arc_cells, "#3a9a70")]
for cells, color in u2_clusters:
    xs = [c[0] for c in cells]
    ys = [c[1] for c in cells]
    pts = [c[2] for c in cells]
    add_cells((xs, ys), color, "x11", "y11", 4.6)
    fig.add_trace(go.Scatter(x=xs, y=ys, mode="markers", xaxis="x12", yaxis="y12", hoverinfo="skip",
                             marker=dict(size=4.4, color=pts, coloraxis="coloraxis3", line=dict(width=0))))
u2_grey = [(t1_cells, "#7f9a20"), (treg3_cells, "#d040c0"), (t3_cells, "#c03080"), (treg1_cells, "#d9575a"), (treg2_cells, "#2090d0")]
for cells, color in u2_grey:
    xs = [c[0] for c in cells]
    ys = [c[1] for c in cells]
    add_cells((xs, ys), color, "x11", "y11", 4.6)
    add_cells((xs, ys), "#6a6a6a", "x12", "y12", 4.4)

trajs = [(traj_top_x, traj_top_y), (traj_th2_x, traj_th2_y), (traj_loop_x, traj_loop_y), (traj_right_x, traj_right_y), (traj_t_x, traj_t_y), (traj_treg_x, traj_treg_y)]
for xa, ya in [("x11", "y11"), ("x12", "y12")]:
    for tx, ty in trajs:
        fig.add_trace(go.Scatter(x=tx, y=ty, mode="lines", xaxis=xa, yaxis=ya, hoverinfo="skip", line=dict(color="#2f2f2f", width=2)))
    fig.add_trace(go.Scatter(x=[-.86], y=[-1.11], mode="markers", xaxis=xa, yaxis=ya, hoverinfo="skip",
                             marker=dict(symbol="circle", size=8, color="white", line=dict(color="black", width=1.3))))

f1_labels = [("Cd4/8<sub>Cycling</sub>", (962, 145)), ("iCOS<sup>hi</sup> Bhlhe40<sup>hi</sup> Cd4<sub>Th1</sub>", (483, 240)), ("Cd4<sub>Th1</sub>_A", (365, 362)),
             ("T_1", (313, 482)), ("T_3", (902, 425)), ("CD4<sub>Tfh</sub>", (865, 640)), ("Cd4<sub>Naive/Mem</sub>", (395, 672)), ("Cd4<sub>Th1</sub>_B", (790, 740)),
             ("Cd4<sub>Th2</sub>", (640, 795)), ("Treg_2", (215, 748)), ("Treg_3", (270, 920)), ("Treg_1", (578, 940)), ("CD4 clustering for", (1260, 385)), ("Monocle", (1260, 475)),
             ("UMAP_1", (607, 1090))]
for text, pos in f1_labels:
    label(text, zf1(*pos), size=22)
label("UMAP_2", zf1(38, 540), size=22, angle=-90)
f1_arrows = [((435, 405), (515, 430)), ((582, 275), (628, 395)), ((452, 680), (452, 600)), ((315, 760), (395, 760)), ((285, 890), (355, 830)),
             ((600, 768), (562, 615)), ((705, 710), (652, 570)), ((788, 622), (743, 578))]
for tail, head in f1_arrows:
    arrow(zf1(*tail), zf1(*head))
arrow(zf1(325, 510), zf1(298, 510), width=1.5)
p = [zf1(*q) for q in [(970, 495), (1100, 500), (1190, 560), (1200, 620), (1210, 680), (1310, 730), (1395, 738)]]
shapes.append(dict(type="path", xref="paper", yref="paper",
                   path="M{:.5f},{:.5f} C{:.5f},{:.5f} {:.5f},{:.5f} {:.5f},{:.5f} C{:.5f},{:.5f} {:.5f},{:.5f} {:.5f},{:.5f}".format(*[v for q in p for v in (px(q[0]), py(q[1]))]),
                   line=dict(color="black", width=4)))
arrow(zf1(1385, 738), zf1(1435, 740), width=4)

f2_labels = [("iCOS<sup>hi</sup> Bhlhe40<sup>hi</sup> Cd4<sub>Th1</sub>", (822, 95)), ("Cd4<sub>Th1</sub>_A", (218, 287)), ("Cd4<sub>Th1</sub>_B", (955, 317)),
             ("Cd4 from", (1295, 388)), ("Cd4/8<sub>Cycling</sub>", (1315, 470)), ("Cd4<sub>Th2</sub>", (218, 600)), ("CD4<sub>Tfh</sub>", (1083, 715)),
             ("T_3", (975, 852)), ("T_1", (235, 908)), ("Treg_3", (330, 1048)), ("Treg_2", (548, 995)), ("Treg_1", (905, 1082))]
for text, pos in f2_labels:
    label(text, zf2(*pos), size=20)
label("UMAP_1", zf2(688, 1342), size=22)
label("UMAP_2", (530, 1862), size=22, angle=-90)
label("Cd4<sub>Naive/Mem</sub>", zf2(715, 875), size=22, bold=True)
f2_arrows = [((570, 135), (475, 190)), ((170, 318), (318, 438)), ((835, 335), (672, 460)), ((1000, 700), (800, 585))]
for tail, head in f2_arrows:
    arrow(zf2(*tail), zf2(*head))
arrow(zf2(570, 840), zf2(547, 735), width=5, color="#ff0000", size=.9)

label("Cd4<sub>Naive/Mem</sub>", zf3(745, 850), size=24, bold=True)
arrow(zf3(625, 810), zf3(555, 685), width=7, color="#ff0000", size=.75)
label("UMAP_1", zf3(682, 1340), size=22)
label("UMAP_2", zf3(30, 610), size=22, angle=-90)
label("Pseudotime", (1586, 1645), size=19)

# panel letters
for text, pos in [("A", (13, 29)), ("B", (1010, 29)), ("C", (13, 1077)), ("D", (577, 1077)), ("E", (990, 1077)), ("F", (11, 1657))]:
    label(text, pos, size=30, bold=True)

# ---------- axes ----------
def hidden_axis(**kw):
    return dict(visible=False, showgrid=False, zeroline=False, **kw)

def bar_xaxis(left, right, centre, step, anchor, visible=True):
    return dict(domain=dom_x(left, right), range=[(left - centre) / step, (right - centre) / step], anchor=anchor, visible=visible,
                categoryorder="array", categoryarray=cats_bar, tickangle=-48, showgrid=False, zeroline=False, showline=True,
                linecolor="black", linewidth=3, ticks="outside", ticklen=7, tickwidth=2.5,
                tickfont=dict(family=LATO, size=22, weight="bold", style="italic", color="black"))

def bar_yaxis(top, bottom, rng, vals, text, anchor):
    return dict(domain=dom_y(top, bottom), range=rng, anchor=anchor, tickmode="array", tickvals=vals, ticktext=text, showgrid=False, zeroline=False,
                showline=True, linecolor="black", linewidth=3, ticks="outside", ticklen=6, tickwidth=3, tickfont=dict(family=LATO, size=22, color="black"))

def umap_axis(dom, rng, vals, text, anchor, standoff=-2):
    return dict(domain=dom, range=rng, anchor=anchor, tickmode="array", tickvals=vals, ticktext=text, showgrid=False, zeroline=False,
                showline=True, linecolor="#666666", linewidth=1.6, ticks="outside", ticklen=4, tickwidth=1.2, tickcolor="#444444",
                ticklabelstandoff=standoff, tickfont=dict(family=LATO, size=22, color="black"))

scale_a = [[(v + 2.5) / 4.9, c] for v, c in [(-2.5, "#2a00ff"), (-2, "#7a3dff"), (-1, "#b794ff"), (-.3, "#e6d8ff"), (0, "#ffffff"), (.5, "#f9c4b0"),
                                             (1, "#f68c6c"), (1.5, "#f25c3a"), (2, "#f01a00"), (2.2, "#f00000"), (2.4, "#ff0000")]]
scale_c = [[0, "#3b5590"], [1 / 6, "#7d8cb0"], [2 / 6, "#b4bdd2"], [.5, "#ffffff"], [4 / 6, "#f6adad"], [5 / 6, "#ea6060"], [1, "#d90b0b"]]

fig.update_layout(
    width=W, height=H, margin=dict(l=0, r=0, t=0, b=0, autoexpand=False), paper_bgcolor="white", plot_bgcolor="white",
    showlegend=False, barmode="stack", annotations=annotations, shapes=shapes, font=dict(family=LATO, color="black"),
    coloraxis=dict(colorscale=scale_a, cmin=-2.5, cmax=2.4, colorbar=dict(
        thicknessmode="pixels", thickness=42.5, lenmode="pixels", len=193.5, x=px(892.5), xanchor="left", y=py(819.5), yanchor="bottom",
        xpad=0, ypad=0, outlinewidth=0, tickmode="array", tickvals=[-2, -1, 0, 1, 2], ticktext=["-2", "-1", "0", "+1", "+2"],
        ticks="inside", ticklen=8, tickcolor="white", tickfont=dict(family=LATO, size=19, color="black"))),
    coloraxis2=dict(colorscale=scale_c, cmin=-3, cmax=3, colorbar=dict(
        thicknessmode="pixels", thickness=15, lenmode="pixels", len=222, x=px(462.5), xanchor="left", y=py(1591), yanchor="bottom",
        xpad=0, ypad=0, outlinewidth=0, tickmode="array", tickvals=[-3, -2, -1, 0, 1, 2, 3], ticktext=["−3", "−2", "−1", "0", "1", "2", "3"],
        ticks="", tickfont=dict(family="Liberation Sans", size=15, color="black"))),
    coloraxis3=dict(colorscale="Plasma", cmin=-.68, cmax=15.7, colorbar=dict(
        thicknessmode="pixels", thickness=34.5, lenmode="pixels", len=201, x=px(1567), xanchor="left", y=py(1861.7), yanchor="bottom",
        xpad=0, ypad=0, outlinewidth=0, tickmode="array", tickvals=[0, 5, 10, 15], ticktext=["0", "5", "10", "15"],
        ticks="inside", ticklen=6, tickcolor="white", tickfont=dict(family=LATO, size=22, color="black"))),

    xaxis=hidden_axis(domain=dom_x(158, 800), range=[-.19, 40.44], anchor="y"),
    yaxis=dict(domain=dom_y(117, 961), range=[26.02, -.86], anchor="x", showgrid=False, zeroline=False, showline=False, ticks="",
               tickmode="array", tickvals=row_centres, ticktext=genes_left, ticklabelstandoff=4,
               tickfont=dict(family=LATO, size=22.5, style="italic", color="black")),
    xaxis2=dict(domain=dom_x(892.5, 1016), range=[892.5, 1016], anchor="y2", showgrid=False, zeroline=False, ticks="", tickmode="array",
                tickvals=key_centres, ticktext=treat_names, tickangle=-90, tickfont=dict(family=LATO, size=20, weight="bold", color="black")),
    yaxis2=hidden_axis(domain=dom_y(846, 882), range=[0, 1], anchor="x2"),

    xaxis3=dict(domain=dom_x(1182, 1619.5), range=[0, 50], anchor="y3", showgrid=False, zeroline=False, showline=True, linecolor="black", linewidth=2.5,
                ticks="outside", ticklen=7, tickwidth=2, tickmode="array", tickvals=[0, 10, 20, 30, 40, 50], tickfont=dict(family=OPEN, size=21, color="black")),
    yaxis3=dict(domain=dom_y(33, 545), range=[-.654, 5.667], anchor="x3", categoryorder="array", categoryarray=cats_b, showgrid=False, zeroline=False,
                showline=True, linecolor="black", linewidth=2.5, ticks="outside", ticklen=7, tickwidth=2, tickfont=dict(family=OPEN, size=23.5, weight="bold", color="black")),

    xaxis4=dict(domain=dom_x(37, 346), range=[-.5, 3.5], anchor="y4", showgrid=False, zeroline=False, ticks="", tickmode="array", tickvals=[0, 1, 2, 3],
                ticktext=c_cols, tickangle=-90, tickfont=dict(family=LATO, size=22, color="black")),
    yaxis4=dict(domain=dom_y(1126, 1342), range=[5.5, -.5], anchor="x4", side="right", showgrid=False, zeroline=False, ticks="", tickmode="array",
                tickvals=[0, 1, 2, 3, 4, 5], ticktext=c_rows, tickfont=dict(family=LATO, size=22.5, color="black")),

    xaxis5=bar_xaxis(638, 921.5, 675, 41.8, "y5"),
    yaxis5=bar_yaxis(1206, 1501, [0, 40], [0, 10, 20, 30, 40], ["0", "10", "20", "30", "40"], "x5"),
    xaxis6=bar_xaxis(1029, 1303.5, 1068, 41.7, "y6"),
    yaxis6=bar_yaxis(1366, 1497.5, [0, 7], [0, 2, 4, 6, 7], ["0", "2", "4", "6", ""], "x6"),
    xaxis7=bar_xaxis(1029, 1303.5, 1068, 41.7, "y7", visible=False),
    yaxis7=bar_yaxis(1204.6, 1337.5, [9.1, 20], [9.1, 10, 15, 20], ["", "10", "15", "20"], "x7"),
    xaxis8=bar_xaxis(1374, 1637, 1412.5, 39.7, "y8"),
    yaxis8=bar_yaxis(1361.4, 1493, [0, 3], [0, 1, 2, 3], ["0", "1", "2", "3"], "x8"),
    xaxis9=bar_xaxis(1374, 1637, 1412.5, 39.7, "y9", visible=False),
    yaxis9=bar_yaxis(1204.3, 1337.5, [4.1, 30], [4.1, 10, 20, 30], ["", "10", "20", "30"], "x9"),

    xaxis10=umap_axis(dom_x(41.4, 365), [-6.6, 10], [-5, 0, 5, 10], ["-5", "0", "5", "10"], "y10", -8),
    yaxis10=umap_axis(dom_y(1680, 1969), [-10.5, 5], [-10, -5, 0], ["-10", "-5", "0"], "x10"),
    xaxis11=umap_axis(dom_x(565, 1020.7), [-5.88, 8.74], [-5, 0, 5], ["-5", "0", "+5"], "y11", -8),
    yaxis11=umap_axis(dom_y(1686.7, 2058.7), [-7.9, 6.12], [-4, 0, 4], ["-4", "0", "4"], "x11"),
    xaxis12=umap_axis(dom_x(1089, 1553.5), [-5.93, 8.68], [-5, 0, 5], ["-5", "0", "+5"], "y12", -8),
    yaxis12=umap_axis(dom_y(1655, 2059), [-7.92, 6.14], [-4, 0, 4], ["-4", "0", "4"], "x12"),
)

# the page's default body margin would push the figure 8px off the reference
fig.write_html("out.html", post_script="document.body.style.margin='0';", config={"displayModeBar": False})
